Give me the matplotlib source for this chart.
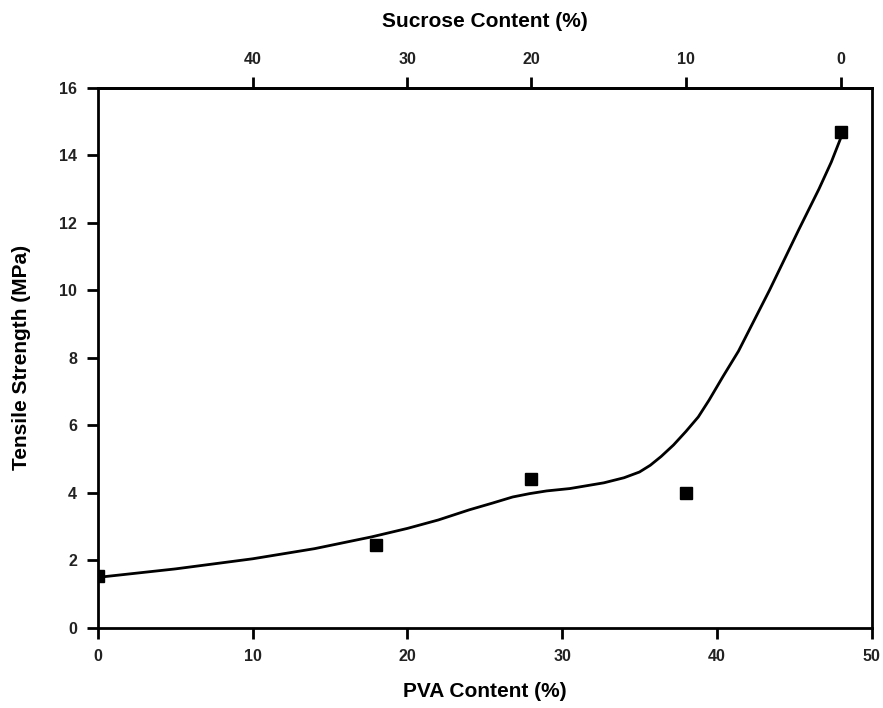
import matplotlib
matplotlib.use("Agg")
import matplotlib.pyplot as plt

# Measured data points
pva = [0, 18, 28, 38, 48]
strength = [1.55, 2.45, 4.4, 4.0, 14.7]

# Fitted curve
curve_x = [0, 5, 10, 14, 17.7, 20, 22, 24, 25.5, 26.8, 27.9, 29, 30.5, 32.7, 34, 35, 35.7, 36.4, 37.2, 38, 38.8, 39.5, 40.4, 41.4, 43.4, 45.3, 46.6, 47.4, 48]
curve_y = [1.5, 1.75, 2.05, 2.35, 2.7, 2.95, 3.2, 3.5, 3.7, 3.88, 3.98, 4.06, 4.13, 4.3, 4.45, 4.62, 4.82, 5.08, 5.42, 5.82, 6.25, 6.75, 7.45, 8.2, 10.0, 11.8, 13.0, 13.8, 14.5]

# Axis ticks
x_ticks = [0, 10, 20, 30, 40, 50]
y_ticks = [0, 2, 4, 6, 8, 10, 12, 14, 16]
top_tick_pos = [10, 20, 28, 38, 48]
top_tick_labels = ["40", "30", "20", "10", "0"]

plt.rcParams['font.family'] = ['Liberation Sans', 'DejaVu Sans']

fig = plt.figure(figsize=(8.83, 7.08), dpi=100)
ax = fig.add_axes([0.111, 0.113, 0.876, 0.763])

ax.plot(curve_x, curve_y, color='black', lw=2, solid_joinstyle='round')
ax.plot(pva, strength, 's', color='black', ms=8)

ax.set_xlim(0, 50)
ax.set_ylim(0, 16)
ax.set_xticks(x_ticks)
ax.set_yticks(y_ticks)
ax.tick_params(axis='both', direction='out', length=8, width=2, labelsize=11.5, pad=7)
for lbl in ax.get_xticklabels() + ax.get_yticklabels():
    lbl.set_fontweight('bold')
    lbl.set_color('#222222')
for s in ax.spines.values():
    s.set_linewidth(2)

ax.set_xlabel('PVA Content (%)', fontsize=15, fontweight='bold', labelpad=13)
ax.set_ylabel('Tensile Strength (MPa)', fontsize=15, fontweight='bold', labelpad=20)

top = ax.secondary_xaxis('top')
top.set_xticks(top_tick_pos)
top.set_xticklabels(top_tick_labels)
top.tick_params(direction='out', length=8, width=2, labelsize=11.5, pad=7)
for lbl in top.get_xticklabels():
    lbl.set_fontweight('bold')
    lbl.set_color('#222222')
top.spines['top'].set_linewidth(2)
top.set_xlabel('Sucrose Content (%)', fontsize=15, fontweight='bold', labelpad=18)

fig.savefig('out.png', dpi=100)
